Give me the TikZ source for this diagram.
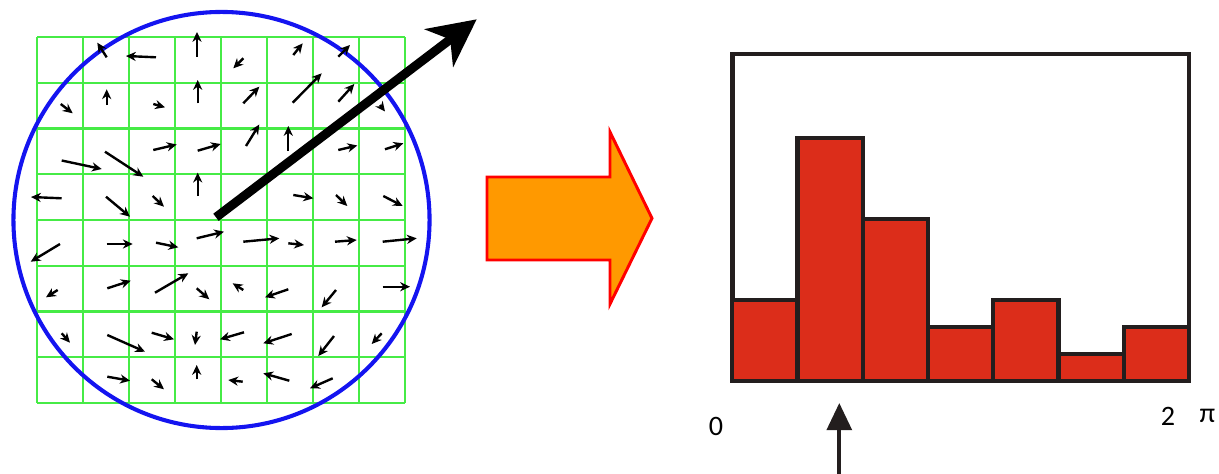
\documentclass[tikz,border=0pt]{standalone}
\usepackage{fontspec}
\setmainfont{Carlito}
\usepackage{tikz}
\usetikzlibrary{
  arrows.meta,
  positioning
}
\definecolor{gridgreen}{RGB}{70,235,70}
\definecolor{ringblue}{RGB}{20,20,240}
\definecolor{binred}{RGB}{220,45,26}
\definecolor{binline}{RGB}{35,30,30}
\definecolor{pushorange}{RGB}{255,153,0}

\begin{document}
\begin{tikzpicture}[x=0.025cm, y=-0.025cm,
  cellgrid/.style={draw=gridgreen, line width=1.7pt},
  ring/.style={draw=ringblue, line width=2.9pt},
  grad/.style={-{Stealth[length=7pt, width=6.5pt]}, line width=1.7pt},
  mainvec/.style={-{Stealth[length=1.18cm, width=1.17cm, inset=0.35cm]}, line width=6.4pt},
  push/.style={draw=red, fill=pushorange, line width=2.1pt, line join=miter},
  histframe/.style={draw=binline, line width=3.2pt},
  bin/.style={draw=binline, fill=binred, line width=3pt},
  pointer/.style={-{Triangle[length=0.68cm, width=0.62cm]}, draw=binline, line width=2.8pt},
  axislabel/.style={font=\fontsize{20}{24}\selectfont, inner sep=0pt}]
\useasboundingbox (0,0) rectangle (1219,474);

% sample grid and window
\foreach \i in {0,...,8} {
  \draw[cellgrid] (37+46*\i,37) -- (37+46*\i,403);
  \draw[cellgrid] (37,37+45.75*\i) -- (405,37+45.75*\i);
}
\draw[ring] (221.5,220) circle[radius=5.2cm];

% gradient samples
\foreach \ax/\ay/\bx/\by in {
  106.7/57.3/97.3/42.7, 156/57.3/126/56, 197/56.7/197/32, 243.3/58.3/233.3/68.3,
  293.3/55/302.7/43.3, 338.3/56.7/350/45,
  60.7/104/72.7/113.3, 106.7/105/106.7/89.3, 153.3/104/165/107.3, 197.7/103.3/197.7/80,
  243.3/103.3/259.3/86.7, 292.7/102.7/321.7/73.3, 338.3/101.7/354.3/84, 380/105/385/111.5,
  61.7/160.5/101.7/169, 105/151.7/143.3/176.7, 153.3/150/176.7/144.5, 197.7/150.7/220.7/144,
  246/146/259.3/124.5, 288.3/151/288.3/126, 338.3/150/357.3/145.5, 385/149.3/403.3/143.3,
  61.7/198.3/31/197, 106/196.7/130/216.7, 152.7/196/164/206.7, 197.7/196/197.7/172.7,
  293.3/195/313.3/198.3, 336/195/347.3/206, 383.3/196/402.7/206,
  60/244/30.7/261.7, 106.7/244/132.7/244, 156/242.7/178.3/247.3, 196.7/238.3/224/231.7,
  243.3/241.7/279.3/238.3, 288.3/243.3/304/245, 335/241.7/356.7/240, 382.7/241.7/416.7/238.3,
  57.7/290/46/297.3, 107.3/288.3/130.7/280.7, 155/292.7/188.3/273.3, 196.7/288.3/209.3/299.3,
  243.3/290/232.7/283.3, 288.3/289.3/265/297.3, 336/290/321.7/307.3, 382.7/286.7/410/286.7,
  61.7/333.3/70/342.7, 107.3/335/145/351.7, 151.7/332.7/174/339.3, 196.7/331.7/195/345,
  244/332.3/220/339.3, 291.7/334/263.3/343.3, 334/336/318.3/356, 381.7/333.3/371.7/344,
  107.3/376.7/130/380.7, 151.7/379.3/164/389.3, 196.7/379.3/196.7/365,
  242.7/381.7/228.3/380, 289.3/380.7/263.3/373.3, 332.7/378.3/310/388.3}
  \draw[grad] (\ax,\ay) -- (\bx,\by);

% dominant orientation
\coordinate (keypt) at (216,217.3);
\coordinate (domtip) at (476.7,19.3);
\draw[mainvec] (keypt) -- (domtip);

% block arrow
\draw[push] (487,177) -- (610,177) -- (610,132) -- (652,218.3)
  -- (610,304) -- (610,260) -- (487,260) -- cycle;

% orientation histogram
\draw[histframe] (732.3,54) rectangle (1189,381);
\foreach \h [count=\k] in {3,9,6,2,3,1,2}
  \draw[bin] (732.3+65.24*\k-65.24,381) rectangle (732.3+65.24*\k,381-27*\h);

\node[axislabel] (zero) at (716,426) {0};
\node[axislabel] (two) at (1168,416) {2};
\node[axislabel, right=0.6cm of two.east, anchor=west] (pi) {π};

\coordinate (peak) at (839.3,403);
\coordinate (foot) at (839.3,474);
\draw[pointer] (foot) -- (peak);
\end{tikzpicture}
\end{document}
